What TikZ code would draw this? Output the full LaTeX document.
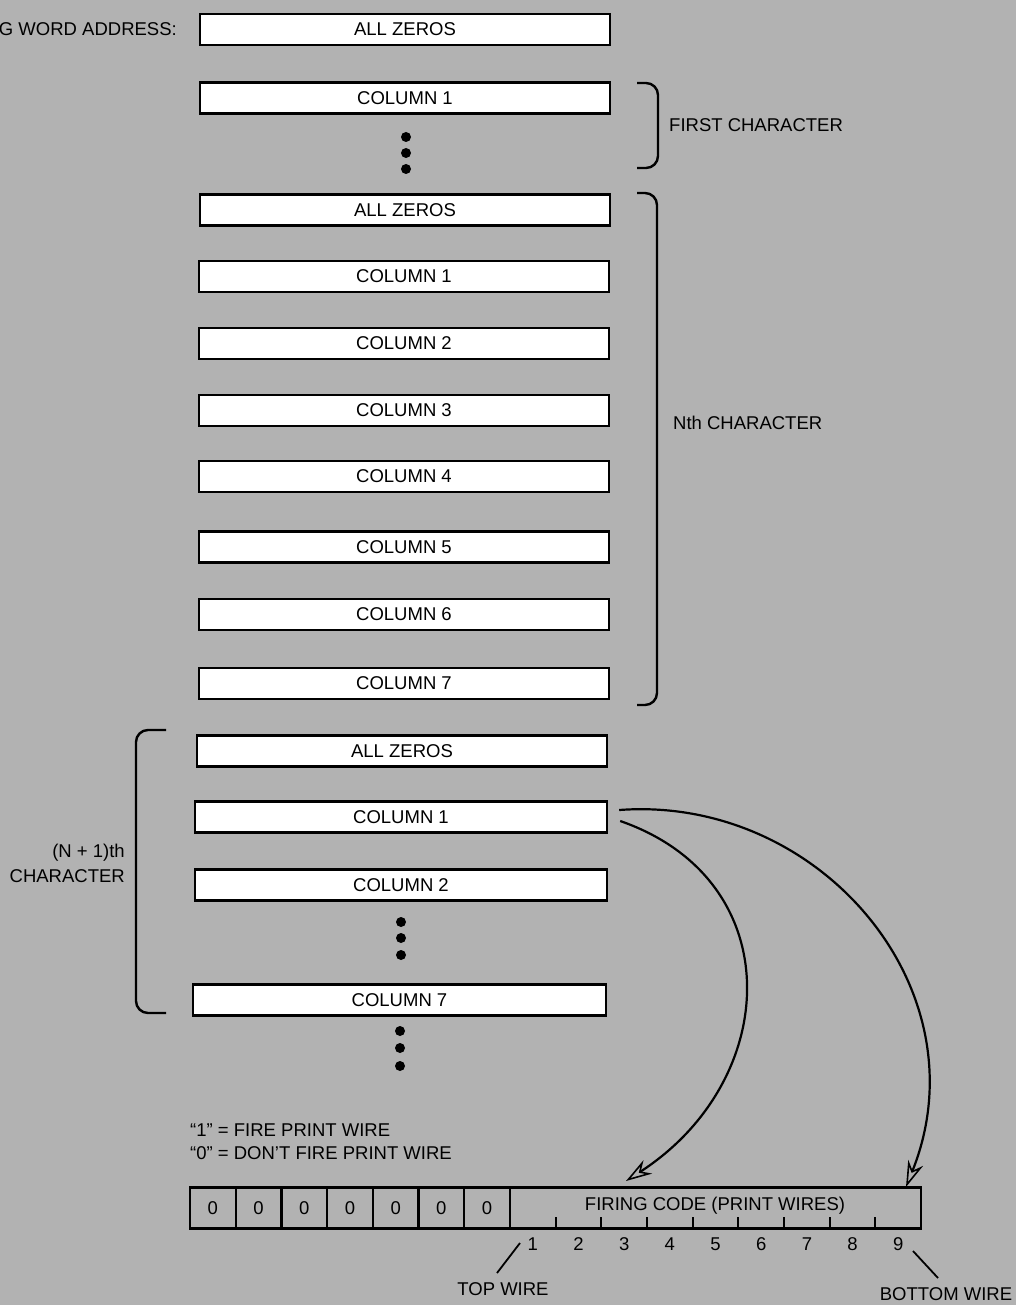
\documentclass[tikz,border=0pt]{standalone}
\usepackage{fontspec}
\setmainfont{Liberation Sans}
\usetikzlibrary{arrows.meta}
\definecolor{bg}{RGB}{178,178,178}
\begin{document}
\begin{tikzpicture}[x=1pt,y=-1pt,
  every node/.style={font=\fontsize{18.5}{22}\selectfont},
  wordbox/.style={draw=black,line width=2.4pt,fill=white,minimum width=410pt,minimum height=31pt,inner sep=0pt},
  cell/.style={draw=black,line width=2.4pt,minimum height=41pt,inner sep=0pt},
  brk/.style={draw=black,line width=2.4pt,rounded corners=12pt},
  lbl/.style={inner sep=0pt},
  dotc/.style={fill=black},
  wirearrow/.style={draw=black,line width=2.2pt,-{Stealth[open,length=26pt,width=16pt,line width=1.6pt]}}
]
\useasboundingbox (0,0) rectangle (1016,1305);
\fill[bg] (0,0) rectangle (1016,1305);
\clip (0,0) rectangle (1016,1305);

% title
\node[lbl,anchor=east] (addr) at (177,29) {G WORD ADDRESS:};

% first character
\node[wordbox] (b1) at (405,29.5) {ALL ZEROS};
\node[wordbox] (b2) at (405,98) {COLUMN 1};
\foreach \y in {137,153,169} \fill[dotc] (406,\y) circle (5);

% Nth character
\node[wordbox] (b3) at (405,210) {ALL ZEROS};
\node[wordbox] (b4) at (404,276.5) {COLUMN 1};
\node[wordbox] (b5) at (404,343.5) {COLUMN 2};
\node[wordbox] (b6) at (404,410.5) {COLUMN 3};
\node[wordbox] (b7) at (404,476.5) {COLUMN 4};
\node[wordbox] (b8) at (404,547) {COLUMN 5};
\node[wordbox] (b9) at (404,614.5) {COLUMN 6};
\node[wordbox] (b10) at (404,683.5) {COLUMN 7};

% (N+1)th character
\node[wordbox,minimum width=410pt] (b11) at (402,751) {ALL ZEROS};
\node[wordbox,minimum width=412pt] (b12) at (401,817) {COLUMN 1};
\node[wordbox,minimum width=412pt] (b13) at (401,885) {COLUMN 2};
\foreach \y in {922,938,955} \fill[dotc] (401,\y) circle (5);
\node[wordbox,minimum width=413pt] (b14) at (399.5,1000) {COLUMN 7};
\foreach \y in {1031,1048,1066} \fill[dotc] (400,\y) circle (5);

% brackets
\draw[brk] (637,83) -- (658,83) -- (658,168) -- (637,168);
\node[lbl,anchor=west] (first) at (669,125) {FIRST CHARACTER};
\draw[brk] (637,193) -- (657,193) -- (657,705) -- (637,705);
\node[lbl,anchor=west] (nth) at (673,423) {Nth CHARACTER};
\draw[brk] (166,730) -- (136,730) -- (136,1013) -- (166,1013);
\node[lbl,anchor=east] (np1a) at (125,853) {(N + 1)th};
\node[lbl,anchor=east] (np1b) at (125,876) {CHARACTER};

% legend
\node[lbl,anchor=west] (leg1) at (190,1130) {“1” = FIRE PRINT WIRE};
\node[lbl,anchor=west] (leg2) at (190,1153) {“0” = DON’T FIRE PRINT WIRE};

% register
\foreach \i in {0,...,6} {
  \node[cell,minimum width=45.7pt] (r\i) at ({190+45.7*\i+22.85},1208) {0};
}
\node[cell,minimum width=411pt] (fc) at (715.5,1208) {};
\node[lbl] (fctext) at (715,1206) {FIRING CODE (PRINT WIRES)};
\foreach \k in {1,...,8} \draw[line width=2.2pt] ({510+45.67*\k},1228.5) -- ({510+45.67*\k},1217);
\foreach \k in {1,...,9} \node[lbl] (n\k) at ({510+45.67*\k-22.8},1244) {\k};

% wire labels
\node[lbl] (top) at (503,1289) {TOP WIRE};
\draw[line width=1.8pt] (497,1273) -- (520,1243);
\node[lbl] (bot) at (946,1294) {BOTTOM WIRE};
\draw[line width=1.8pt] (913,1251) -- (938,1278);

% arrows
\coordinate (tipA) at (626,1181);
\coordinate (tipB) at (906,1187);
\draw[wirearrow] ([xshift=12pt,yshift=-4pt]b12.east) .. controls (790,880) and (782,1080) .. (tipA);
\draw[wirearrow] ([xshift=11pt,yshift=7pt]b12.east) .. controls (820,795) and (985,990) .. (tipB);
\end{tikzpicture}
\end{document}
